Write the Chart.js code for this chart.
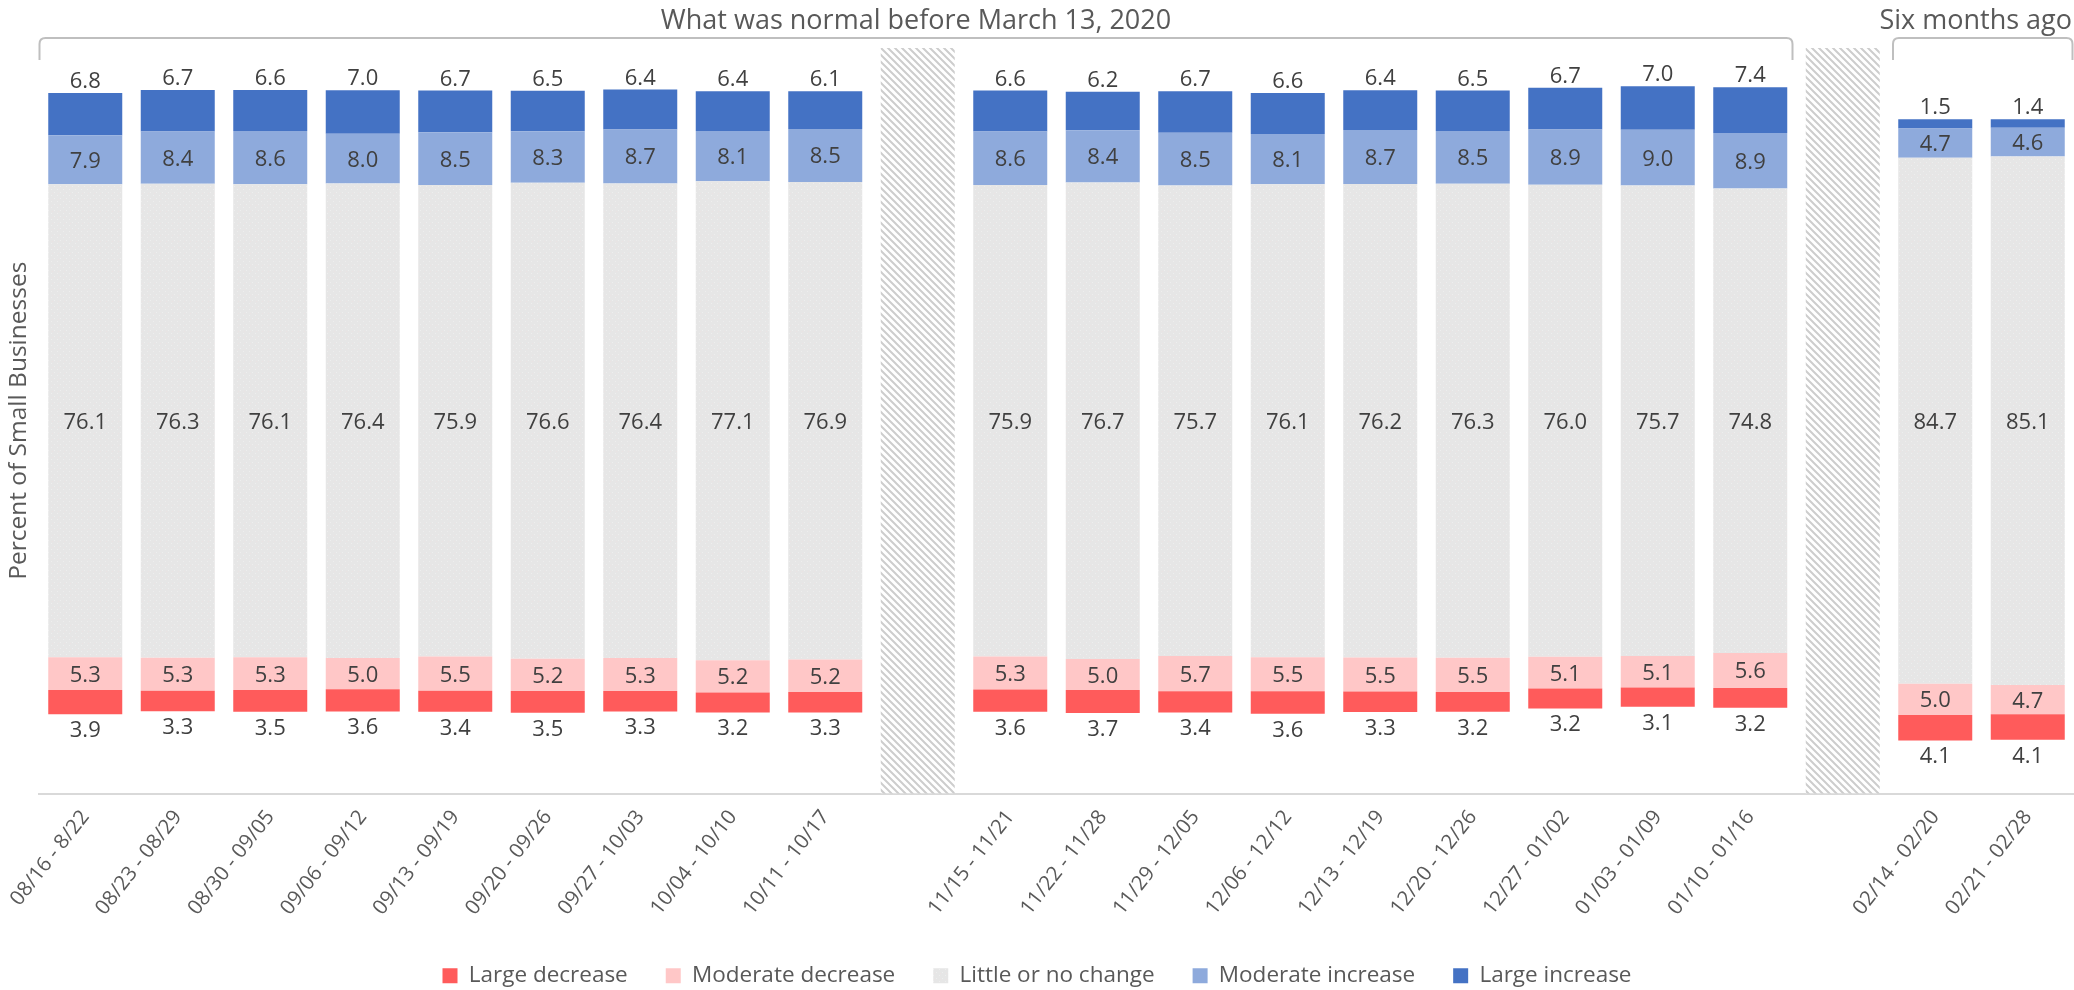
<!DOCTYPE html>
<html>
<head>
<meta charset="utf-8">
<title>Small business outlook</title>
<script src="https://cdn.jsdelivr.net/npm/chart.js@4.4.1/dist/chart.umd.min.js"></script>
<style>
  html, body { margin: 0; padding: 0; background: #ffffff; }
  #c { display: block; }
</style>
</head>
<body>
<canvas id="c" width="2074" height="990"></canvas>
<script>
// Survey weeks
const weeks = [
  '08/16 - 8/22', '08/23 - 08/29', '08/30 - 09/05', '09/06 - 09/12', '09/13 - 09/19',
  '09/20 - 09/26', '09/27 - 10/03', '10/04 - 10/10', '10/11 - 10/17',
  '11/15 - 11/21', '11/22 - 11/28', '11/29 - 12/05', '12/06 - 12/12', '12/13 - 12/19',
  '12/20 - 12/26', '12/27 - 01/02', '01/03 - 01/09', '01/10 - 01/16',
  '02/14 - 02/20', '02/21 - 02/28'
];

// Share of small businesses (%) per response
const largeDecrease    = [3.9, 3.3, 3.5, 3.6, 3.4, 3.5, 3.3, 3.2, 3.3, 3.6, 3.7, 3.4, 3.6, 3.3, 3.2, 3.2, 3.1, 3.2, 4.1, 4.1];
const moderateDecrease = [5.3, 5.3, 5.3, 5.0, 5.5, 5.2, 5.3, 5.2, 5.2, 5.3, 5.0, 5.7, 5.5, 5.5, 5.5, 5.1, 5.1, 5.6, 5.0, 4.7];
const littleChange     = [76.1, 76.3, 76.1, 76.4, 75.9, 76.6, 76.4, 77.1, 76.9, 75.9, 76.7, 75.7, 76.1, 76.2, 76.3, 76.0, 75.7, 74.8, 84.7, 85.1];
const moderateIncrease = [7.9, 8.4, 8.6, 8.0, 8.5, 8.3, 8.7, 8.1, 8.5, 8.6, 8.4, 8.5, 8.1, 8.7, 8.5, 8.9, 9.0, 8.9, 4.7, 4.6];
const largeIncrease    = [6.8, 6.7, 6.6, 7.0, 6.7, 6.5, 6.4, 6.4, 6.1, 6.6, 6.2, 6.7, 6.6, 6.4, 6.5, 6.7, 7.0, 7.4, 1.5, 1.4];

// A hatched separator column follows these week indices
const breakAfter = [8, 17];

// Comparison-period brackets drawn over the bars (week index ranges)
const groupTitles = [
  { text: 'What was normal before March 13, 2020', from: 0, to: 17 },
  { text: 'Six months ago', from: 18, to: 19 }
];

const yRange = [-60, 60];
const seriesNames = ['Large decrease', 'Moderate decrease', 'Little or no change', 'Moderate increase', 'Large increase'];

// ---- category slots (weeks plus separator columns) ----
const slots = [];
weeks.forEach((w, i) => {
  slots.push({ week: i });
  if (breakAfter.includes(i)) slots.push({ gap: true });
});
const weekSlot = [];
slots.forEach((s, k) => { if (!s.gap) weekSlot[s.week] = k; });
const categories = slots.map(s => (s.gap ? '' : weeks[s.week]));

// Bars are centred on the middle of "Little or no change"
const half = i => littleChange[i] / 2;
const span = fn => slots.map(s => (s.gap ? null : fn(s.week)));

const ldSpans = span(i => [-half(i) - moderateDecrease[i] - largeDecrease[i], -half(i) - moderateDecrease[i]]);
const mdSpans = span(i => [-half(i) - moderateDecrease[i], -half(i)]);
const ncSpans = span(i => [-half(i), half(i)]);
const miSpans = span(i => [half(i), half(i) + moderateIncrease[i]]);
const liSpans = span(i => [half(i) + moderateIncrease[i], half(i) + moderateIncrease[i] + largeIncrease[i]]);
const sepSpans = slots.map(s => (s.gap ? yRange.slice() : null));

// ---- fills ----
function hatchPattern() {
  const c = document.createElement('canvas');
  c.width = c.height = 7;
  const g = c.getContext('2d');
  g.fillStyle = '#ffffff';
  g.fillRect(0, 0, 7, 7);
  g.strokeStyle = '#cdcdcd';
  g.lineWidth = 2;
  g.beginPath();
  g.moveTo(-1, -1); g.lineTo(8, 8);
  g.moveTo(-1, 6); g.lineTo(1, 8);
  g.moveTo(6, -1); g.lineTo(8, 1);
  g.stroke();
  return g.createPattern(c, 'repeat');
}
function speckledGrey() {
  const c = document.createElement('canvas');
  c.width = c.height = 6;
  const g = c.getContext('2d');
  g.fillStyle = '#e6e6e6';
  g.fillRect(0, 0, 6, 6);
  g.fillStyle = '#eeeeee';
  g.fillRect(0, 0, 1, 1);
  g.fillRect(3, 3, 1, 1);
  g.fillStyle = '#ebe3e3';
  g.fillRect(4, 1, 1, 1);
  return g.createPattern(c, 'repeat');
}

const FONT = '"Open Sans", "DejaVu Sans", sans-serif';
Chart.defaults.font.family = FONT;
Chart.defaults.color = '#595959';

// label placement for each series: outside-low, centre, outside-high
const labelSeries = [
  { values: largeDecrease, place: 'below' },
  { values: moderateDecrease, place: 'center' },
  { values: littleChange, place: 'center' },
  { values: moderateIncrease, place: 'center' },
  { values: largeIncrease, place: 'above' }
];

const annotate = {
  id: 'annotate',
  afterDatasetsDraw(chart) {
    const ctx = chart.ctx;
    const x = chart.scales.x;
    ctx.save();
    // value labels
    ctx.font = '22px ' + FONT;
    ctx.fillStyle = '#404040';
    ctx.textAlign = 'center';
    ctx.textBaseline = 'alphabetic';
    labelSeries.forEach((def, k) => {
      const meta = chart.getDatasetMeta(k + 1);
      meta.data.forEach((bar, idx) => {
        const s = slots[idx];
        if (s.gap) return;
        const top = Math.min(bar.y, bar.base);
        const bottom = Math.max(bar.y, bar.base);
        let y;
        if (def.place === 'above') y = top - 5;
        else if (def.place === 'below') y = bottom + 23;
        else y = (top + bottom) / 2 + 8;
        ctx.fillText(def.values[s.week].toFixed(1), bar.x, y);
      });
    });

    // period brackets and their titles
    const pitch = x.width / categories.length;
    groupTitles.forEach((gt, n) => {
      const l = x.getPixelForValue(weekSlot[gt.from]) - pitch / 2 + (n === 0 ? 0.5 : 4);
      const r = x.getPixelForValue(weekSlot[gt.to]) + pitch / 2 - (n === 0 ? 4 : 1.5);
      const yTop = 38, yEnd = 60, rad = 6;
      ctx.strokeStyle = '#bfbfbf';
      ctx.lineWidth = 2;
      ctx.beginPath();
      ctx.moveTo(l, yEnd);
      ctx.lineTo(l, yTop + rad);
      ctx.quadraticCurveTo(l, yTop, l + rad, yTop);
      ctx.lineTo(r - rad, yTop);
      ctx.quadraticCurveTo(r, yTop, r, yTop + rad);
      ctx.lineTo(r, yEnd);
      ctx.stroke();
      ctx.font = '27px ' + FONT;
      ctx.fillStyle = '#595959';
      ctx.textAlign = 'center';
      ctx.fillText(gt.text, Math.min((l + r) / 2, chart.width - ctx.measureText(gt.text).width / 2 - 2), 29);
    });
    ctx.restore();
  }
};

const common = { grouped: false, barPercentage: 1, categoryPercentage: 0.8, borderWidth: 0 };

new Chart(document.getElementById('c'), {
  type: 'bar',
  data: {
    labels: categories,
    datasets: [
      Object.assign({ label: '', data: sepSpans, backgroundColor: hatchPattern() }, common),
      Object.assign({ label: seriesNames[0], data: ldSpans, backgroundColor: '#ff5b5b' }, common),
      Object.assign({ label: seriesNames[1], data: mdSpans, backgroundColor: '#ffc7c7' }, common),
      Object.assign({ label: seriesNames[2], data: ncSpans, backgroundColor: speckledGrey() }, common),
      Object.assign({ label: seriesNames[3], data: miSpans, backgroundColor: '#8eaadc' }, common),
      Object.assign({ label: seriesNames[4], data: liSpans, backgroundColor: '#4472c4' }, common)
    ]
  },
  options: {
    responsive: false,
    animation: false,
    devicePixelRatio: 1,
    layout: { padding: { top: 48, bottom: -7, left: 0, right: 0 } },
    scales: {
      x: {
        grid: { display: false, drawTicks: false },
        border: { display: true, color: '#d9d9d9', width: 2 },
        ticks: {
          autoSkip: false,
          minRotation: 52,
          maxRotation: 52,
          padding: 12,
          color: '#595959',
          font: { size: 20.5 }
        },
        afterFit(scale) { scale.height = 133; }
      },
      y: {
        min: yRange[0],
        max: yRange[1],
        grid: { display: false, drawTicks: false },
        border: { display: false },
        ticks: { display: false },
        title: {
          display: true,
          text: 'Percent of Small Businesses',
          color: '#595959',
          font: { size: 24.5 },
          padding: { top: 4, bottom: 2 }
        },
        afterFit(scale) { scale.width = 39; }
      }
    },
    plugins: {
      tooltip: { enabled: false },
      legend: {
        position: 'bottom',
        labels: {
          boxWidth: 15,
          boxHeight: 15,
          padding: 38,
          color: '#595959',
          font: { size: 22.5 },
          filter: item => item.datasetIndex !== 0
        }
      }
    }
  },
  plugins: [annotate]
});
</script>
</body>
</html>
